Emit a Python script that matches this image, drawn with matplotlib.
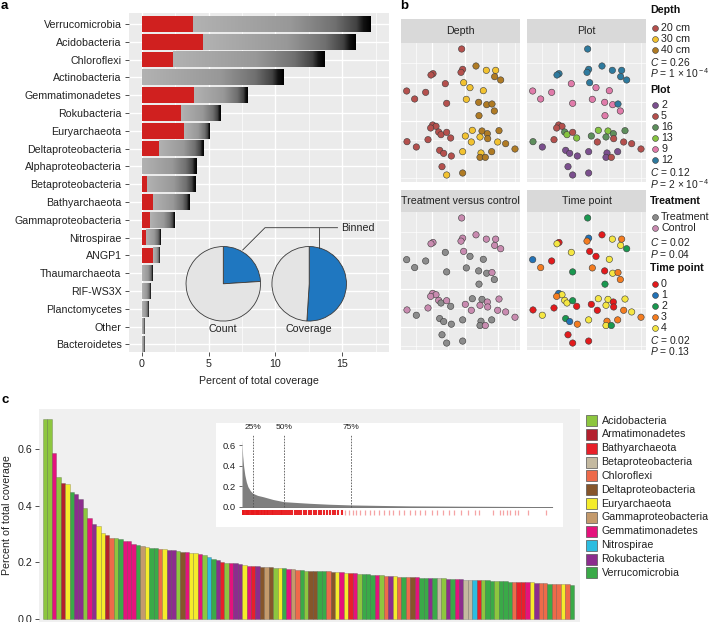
import matplotlib
matplotlib.use('Agg')
import matplotlib.pyplot as plt
import numpy as np
from matplotlib.colors import LinearSegmentedColormap

plt.rcParams['font.family'] = ['Liberation Sans', 'DejaVu Sans']
plt.rcParams['mathtext.fontset'] = 'custom'
plt.rcParams['mathtext.rm'] = 'Liberation Sans'
plt.rcParams['mathtext.it'] = 'Liberation Sans:italic'
plt.rcParams['mathtext.bf'] = 'Liberation Sans:bold'

# ---------------- DATA ----------------
# Panel a
phyla_a = ['Verrucomicrobia', 'Acidobacteria', 'Chloroflexi', 'Actinobacteria',
           'Gemmatimonadetes', 'Rokubacteria', 'Euryarchaeota', 'Deltaproteobacteria',
           'Alphaproteobacteria', 'Betaproteobacteria', 'Bathyarchaeota',
           'Gammaproteobacteria', 'Nitrospirae', 'ANGP1', 'Thaumarchaeota',
           'RIF-WS3X', 'Planctomycetes', 'Other', 'Bacteroidetes']
binned_cov = [3.8, 4.6, 2.35, 0, 3.9, 2.95, 3.15, 1.25, 0, 0.4, 0.8, 0.57,
              0.32, 0.8, 0, 0, 0, 0, 0]
total_cov = [17.1, 16.0, 13.7, 10.6, 7.9, 5.9, 5.05, 4.6, 4.1, 4.05, 3.5, 2.4,
             1.37, 1.25, 0.77, 0.67, 0.45, 0.17, 0.15]
a_xticks = [0, 5, 10, 15]
pie_labels = ['Count', 'Coverage']
pie_binned_frac = [0.24, 0.51]

# Panel b (ordination scores, same samples in all four facets)
nmds1 = [185, 228, 259, 287, 188, 183, 99, 93, 284, 302, 136, 191, 210, 250, 20, 77,
         44, 199, 236, 140, 260, 276, 283, 237, 98, 108, 92, 116, 123, 140, 152, 84,
         21, 49, 217, 246, 262, 297, 196, 240, 263, 214, 293, 317, 345, 119, 131, 154,
         188, 243, 240, 256, 275, 126, 140, 188]
nmds2 = [27, 78, 91, 91, 88, 97, 101, 105, 110, 120, 131, 128, 143, 152, 153, 157,
         177, 178, 187, 190, 194, 192, 213, 227, 255, 259, 264, 276, 284, 277, 294, 299,
         305, 321, 271, 273, 281, 272, 288, 291, 296, 306, 306, 311, 327, 331, 340, 348,
         335, 339, 352, 352, 335, 380, 405, 399]
depth = ['20', '40', '30', '30', '20', '20', '20', '20', '40', '40', '20', '30', '30', '30',
         '20', '20', '20', '30', '40', '20', '40', '40', '40', '40',
         '20', '20', '20', '20', '20', '20', '20', '20', '20', '20', '30', '40', '40', '40',
         '30', '30', '40', '30', '30', '40', '40', '20', '20', '20', '30', '30', '40', '40',
         '40', '20', '30', '40']
plot_id = ['12', '12', '12', '12', '12', '12', '12', '12', '12', '12', '9', '12', '9', '9',
           '9', '9', '9', '9', '9', '9', '9', '12', '9', '9',
           '5', '5', '5', '16', '13', '5', '13', '5', '16', '2', '13', '13', '16', '16',
           '16', '16', '5', '5', '5', '5', '5', '2', '2', '2', '2', '2', '2', '5', '2', '2',
           '2', '2']
treatment = ['C', 'C', 'C', 'C', 'C', 'C', 'C', 'C', 'C', 'C', 'T', 'C', 'T', 'T', 'T', 'T',
             'T', 'T', 'T', 'T', 'T', 'C', 'T', 'T',
             'C', 'C', 'C', 'C', 'T', 'C', 'T', 'C', 'C', 'T', 'T', 'T', 'C', 'C', 'C', 'C',
             'C', 'C', 'C', 'C', 'C', 'T', 'T', 'T', 'T', 'T', 'T', 'C', 'T', 'T', 'T', 'T']
time_point = ['2', '0', '4', '3', '1', '3', '0', '4', '4', '2', '4', '0', '0', '4', '1', '0',
              '3', '3', '0', '2', '4', '3', '3', '2',
              '1', '4', '3', '4', '4', '2', '0', '0', '0', '4', '4', '4', '0', '4', '0', '4',
              '0', '0', '3', '4', '3', '2', '1', '3', '4', '3', '4', '2', '3', '0', '0', '0']
depth_levels = ['20', '30', '40']
plot_levels = ['2', '5', '16', '13', '9', '12']
treat_levels = ['T', 'C']
time_levels = ['0', '1', '2', '3', '4']
stats_C = ['0.26', '0.12', '0.02', '0.02']
stats_P = [r'1 × 10$^{\rm -4}$', r'2 × 10$^{\rm -4}$', '0.04', '0.13']

# Panel c
c_codes = ['Aci', 'Aci', 'Gem', 'Aci', 'Arm', 'Eur', 'Ver', 'Rok', 'Rok', 'Aci',
           'Gem', 'Rok', 'Eur', 'Eur', 'Arm', 'Chl', 'Aci', 'Ver', 'Gem', 'Gem',
           'Gem', 'Ver', 'Gam', 'Eur', 'Ver', 'Ver', 'Chl', 'Eur', 'Rok', 'Rok',
           'Aci', 'Del', 'Gem', 'Eur', 'Eur', 'Gem', 'Aci', 'Nit', 'Ver', 'Rok',
           'Bat', 'Aci', 'Gem', 'Rok', 'Rok', 'Eur', 'Gem', 'Bat', 'Rok', 'Del',
           'Gam', 'Del', 'Aci', 'Eur', 'Ver', 'Gem', 'Gam', 'Chl', 'Ver', 'Aci',
           'Del', 'Del', 'Ver', 'Ver', 'Chl', 'Del', 'Eur', 'Gem', 'Eur', 'Bat',
           'Gem', 'Aci', 'Ver', 'Ver', 'Ver', 'Gem', 'Aci', 'Chl', 'Rok', 'Eur',
           'Chl', 'Ver', 'Chl', 'Del', 'Gem', 'Ver', 'Ver', 'Rok', 'Ver', 'Bet',
           'Aci', 'Rok', 'Ver', 'Gem', 'Rok', 'Bet', 'Bet', 'Nit', 'Bat', 'Aci',
           'Ver', 'Ver', 'Aci', 'Ver', 'Ver', 'Ver', 'Chl', 'Bat', 'Bat', 'Gem',
           'Eur', 'Rok', 'Chl', 'Chl', 'Ver', 'Chl', 'Chl', 'Eur', 'Chl', 'Ver']
c_values = [0.705, 0.705, 0.585, 0.50, 0.48, 0.476, 0.449, 0.44, 0.424, 0.39,
            0.358, 0.335, 0.327, 0.302, 0.295, 0.287, 0.285, 0.283, 0.275, 0.274,
            0.265, 0.262, 0.258, 0.253, 0.250, 0.249, 0.248, 0.246, 0.243, 0.242,
            0.240, 0.237, 0.236, 0.233, 0.232, 0.229, 0.225, 0.218, 0.212, 0.208,
            0.200, 0.198, 0.197, 0.196, 0.195, 0.190, 0.188, 0.187, 0.186, 0.183,
            0.183, 0.182, 0.181, 0.181, 0.180, 0.176, 0.175, 0.174, 0.172, 0.171,
            0.170, 0.170, 0.169, 0.169, 0.168, 0.167, 0.166, 0.165, 0.163, 0.162,
            0.161, 0.159, 0.158, 0.158, 0.157, 0.156, 0.155, 0.153, 0.152, 0.150,
            0.149, 0.148, 0.148, 0.147, 0.147, 0.146, 0.146, 0.145, 0.144, 0.144,
            0.143, 0.142, 0.141, 0.140, 0.140, 0.139, 0.139, 0.138, 0.137, 0.136,
            0.136, 0.135, 0.134, 0.134, 0.133, 0.132, 0.131, 0.130, 0.130, 0.129,
            0.129, 0.128, 0.127, 0.126, 0.125, 0.124, 0.123, 0.123, 0.122, 0.121]
c_yticks = [0.0, 0.2, 0.4, 0.6]
c_names = {'Aci': 'Acidobacteria', 'Arm': 'Armatimonadetes', 'Bat': 'Bathyarchaeota',
           'Bet': 'Betaproteobacteria', 'Chl': 'Chloroflexi', 'Del': 'Deltaproteobacteria',
           'Eur': 'Euryarchaeota', 'Gam': 'Gammaproteobacteria', 'Gem': 'Gemmatimonadetes',
           'Nit': 'Nitrospirae', 'Rok': 'Rokubacteria', 'Ver': 'Verrucomicrobia'}
# inset: ranked coverage of all genomes (% of ranked genomes) and binned positions
inset_rank = [0, 0.2, 0.5, 0.9, 1.4, 1.9, 2.7, 3.5, 5, 6.8, 10, 13.4, 18, 21.8, 28,
              35.1, 45, 54, 70, 85, 100]
inset_cov = [0.65, 0.5, 0.4, 0.31, 0.24, 0.195, 0.155, 0.13, 0.11, 0.097, 0.07, 0.049,
             0.04, 0.033, 0.024, 0.017, 0.012, 0.008, 0.005, 0.003, 0.001]
quartile_pos = [3.5, 13.4, 35.1]
quartile_lab = ['25%', '50%', '75%']
rug_dense = [0, 0.4, 0.8, 1.2, 1.6, 2.0, 2.4, 2.8, 3.2, 3.6, 4.0, 4.4, 4.8, 5.2, 5.6,
             6.0, 6.5, 7.0, 7.5, 8.0, 8.5, 9.0, 9.5, 10.0, 10.6, 11.2, 11.8, 12.4, 13.0,
             13.6, 14.2, 14.8, 15.5, 16.2, 16.9, 17.6, 18.3, 19.0, 19.8, 20.6, 21.4,
             22.2, 23.0, 23.8, 24.6, 25.5, 26.4, 27.3, 28.2, 29.1, 30.0, 31.0, 32.0]
rug_sparse = [33.2, 34.5, 35.6, 36.8, 38.0, 39.5, 41.0, 42.3, 44.0, 45.5, 47.2, 48.6,
              50.5, 52.0, 54.0, 55.5, 57.3, 59.0, 61.0, 62.8, 64.5, 66.5, 68.2, 70.5,
              72.6, 74.8, 76.2, 80.7, 83.0, 84.0, 85.2, 86.2, 87.8, 88.8, 92.0, 97.8]

# ---------------- STYLE ----------------
W, H = 711, 622
fig = plt.figure(figsize=(W / 100, H / 100), dpi=100)
FS = 7.7
TXT = '#222222'
RED = '#D0201F'
BLUE = '#1F77C0'
PANEL_BG = '#EBEBEB'

depth_cols = {'20': '#B5504D', '30': '#F2C230', '40': '#B07B24'}
plot_cols = {'2': '#7B4F8E', '5': '#B5504D', '16': '#5E8F5C', '13': '#86C440',
             '9': '#E07BAA', '12': '#2E7A9E'}
treat_cols = {'T': '#8C8C8C', 'C': '#C98BB0'}
treat_names = {'T': 'Treatment', 'C': 'Control'}
time_cols = {'0': '#E31A1C', '1': '#2272B6', '2': '#1A9850', '3': '#F47C20', '4': '#F5E642'}
c_cols = {'Aci': '#8DC63F', 'Arm': '#B3202E', 'Bat': '#E8202A', 'Bet': '#C4B9A0',
          'Chl': '#EE6A4A', 'Del': '#86552B', 'Eur': '#F5EC2B', 'Gam': '#C49A6C',
          'Gem': '#E5127D', 'Nit': '#2DBDE0', 'Rok': '#8C2D8E', 'Ver': '#3AAA48'}


def ax_px(l, t, r, b):
    return fig.add_axes([l / W, 1 - b / H, (r - l) / W, (b - t) / H])


# ---------------- PANEL A ----------------
axa = ax_px(129, 13, 389, 352)
axa.set_facecolor(PANEL_BG)
for v in a_xticks:
    axa.axvline(v, color='white', lw=1.0, zorder=0)
for v in [2.5, 7.5, 12.5, 17.5]:
    axa.axvline(v, color='white', lw=0.5, zorder=0)
for i in range(len(phyla_a)):
    axa.axhline(i, color='white', lw=1.0, zorder=0)

gray_cmap = LinearSegmentedColormap.from_list(
    'g', [(0, '#b2b2b2'), (0.55, '#989898'), (0.8, '#707070'), (0.92, '#424242'),
          (0.96, '#121212'), (1, '#000000')])
grad = np.linspace(0, 1, 256)[None, :]
bh = 0.88
for i, (b, t) in enumerate(zip(binned_cov, total_cov)):
    if t > b:
        axa.imshow(grad, extent=(b, t, i + bh / 2, i - bh / 2), cmap=gray_cmap,
                   aspect='auto', interpolation='bilinear', zorder=2)
    if b > 0:
        axa.barh(i, b, height=bh, color=RED, zorder=3)
axa.set_xlim(-0.97, 18.5)
axa.set_ylim(18.43, -0.62)
axa.set_yticks(range(len(phyla_a)))
axa.set_yticklabels(phyla_a, fontsize=FS, color=TXT)
axa.set_xticks(a_xticks)
axa.set_xticklabels([str(v) for v in a_xticks], fontsize=FS, color=TXT)
axa.tick_params(length=2.8, width=0.6, color='#333333', pad=2.5)
axa.set_xlabel('Percent of total coverage', fontsize=FS, color=TXT, labelpad=5)
for s in axa.spines.values():
    s.set_visible(False)

# pies
for (cx, lab, frac) in zip([223.3, 309.2], pie_labels, pie_binned_frac):
    pax = ax_px(cx - 38, 245.8, cx + 38, 321.8)
    pax.pie([frac, 1 - frac], startangle=90, counterclock=False,
            colors=[BLUE, '#E4E4E4'],
            wedgeprops=dict(edgecolor='#3a3a3a', linewidth=0.6))
    pax.set_aspect('equal')
    pax.set_xlim(-1.02, 1.02)
    pax.set_ylim(-1.02, 1.02)

# ---------------- PANEL B ----------------
xg = [47, 95, 145, 195, 245, 295, 345]
yg = [70, 128, 185, 243, 300, 358, 415]


def facet(l, strip_t, t, r, b, title, colors):
    ax = ax_px(l, t, r, b)
    ax.set_facecolor(PANEL_BG)
    for k, g in enumerate(xg):
        ax.axvline(g, color='white', lw=0.9 if k % 2 else 0.45, zorder=0)
    for k, g in enumerate(yg):
        ax.axhline(g, color='white', lw=0.9 if k % 2 else 0.45, zorder=0)
    ax.scatter(nmds1, nmds2, c=colors, s=21, edgecolors='#3a3a3a', linewidths=0.4,
               zorder=3)
    ax.set_xlim(3, 360)
    ax.set_ylim(426, 9)
    ax.set_xticks([])
    ax.set_yticks([])
    for s in ax.spines.values():
        s.set_visible(False)
    sax = ax_px(l, strip_t, r, t)
    sax.set_facecolor('#D9D9D9')
    sax.set_xticks([])
    sax.set_yticks([])
    for s in sax.spines.values():
        s.set_visible(False)
    sax.text(0.5, 0.5, title, ha='center', va='center', fontsize=FS, color=TXT,
             transform=sax.transAxes)


facet(401, 19, 43, 520, 182, 'Depth', [depth_cols[v] for v in depth])
facet(527, 19, 43, 646, 182, 'Plot', [plot_cols[v] for v in plot_id])
facet(401, 190, 212, 520, 350, 'Treatment versus control',
      [treat_cols[v] for v in treatment])
facet(527, 190, 212, 646, 350, 'Time point', [time_cols[v] for v in time_point])

# ---------------- PANEL C ----------------
axc = ax_px(39, 409, 580, 622)
axc.set_facecolor('#F0F0F0')
xs = np.arange(len(c_values))
axc.bar(xs, c_values, width=1.0, color=[c_cols[c] for c in c_codes],
        edgecolor=(0, 0, 0, 0.3), linewidth=0.4, zorder=2)
axc.set_xlim(-1.4, len(c_values) - 0.5 + 1.36)
axc.set_ylim(-0.0106, 0.741)
axc.set_xticks([])
axc.set_yticks(c_yticks)
axc.set_yticklabels(['%.1f' % v for v in c_yticks], fontsize=FS, color=TXT)
axc.tick_params(axis='y', length=2.8, width=0.6, color='#333333', pad=2)
axc.set_ylabel('Percent of total coverage', fontsize=FS, color=TXT, labelpad=4)
for s in axc.spines.values():
    s.set_visible(False)

# inset
box = ax_px(216, 423, 563, 527)
box.set_facecolor('white')
box.set_xticks([])
box.set_yticks([])
for s in box.spines.values():
    s.set_visible(False)
ins = ax_px(242, 435, 553, 516)
ins.patch.set_alpha(0)
ins.fill_between(inset_rank, inset_cov, 0, color='#7F7F7F', lw=0)
ins.plot([0, 100], [0, 0], color='#777777', lw=0.7)
ins.vlines(rug_dense, -0.076, -0.032, color='#E8191C', lw=1.5, alpha=0.95)
ins.vlines(rug_sparse, -0.076, -0.032, color='#E8191C', lw=0.9, alpha=0.4)
for p, lab in zip(quartile_pos, quartile_lab):
    ins.plot([p, p], [0, 0.6975], color='#555555', lw=0.6, ls=(0, (2, 1.5)))
    ins.text(p, 0.766, lab, ha='center', va='center', fontsize=6, color=TXT,
             clip_on=False)
ins.set_xlim(0, 100)
ins.set_ylim(-0.0905, 0.6975)
ins.set_xticks([])
ins.set_yticks(c_yticks)
ins.set_yticklabels(['%.1f' % v for v in c_yticks], fontsize=6.8, color=TXT)
ins.tick_params(axis='y', length=2, width=0.5, color='#333333', pad=2.5)
for s in ins.spines.values():
    s.set_visible(False)

# ---------------- OVERLAY (legends, labels) ----------------
ov = fig.add_axes([0, 0, 1, 1], zorder=20)
ov.set_xlim(0, W)
ov.set_ylim(H, 0)
ov.axis('off')
ov.patch.set_alpha(0)

# panel letters
for x, y, s in [(1, 6, 'a'), (400, 6, 'b'), (1, 400, 'c')]:
    ov.text(x, y, s, fontsize=9.5, fontweight='bold', va='center', ha='left', color='black')

# pie labels and leader lines
for cx, lab in zip([223.3, 309.2], pie_labels):
    ov.text(cx, 329.5, lab, ha='center', va='center', fontsize=FS, color=TXT)
ov.text(341.5, 227.7, 'Binned', ha='left', va='center', fontsize=FS, color=TXT)
ov.plot([242.7, 265, 337.5], [250, 227.7, 227.7], color='#333333', lw=0.6)
ov.plot([319.3, 319.3], [227.7, 247.5], color='#333333', lw=0.6)


# panel b legend
def legend_block(title, ty, levels, names, cols, ys, cval, pval, cy, py):
    ov.text(650, ty, title, fontsize=FS, fontweight='bold', va='center', ha='left',
            color='#111111')
    for lv, yy in zip(levels, ys):
        ov.plot([654.5], [yy], 'o', ms=4.2, mfc=cols[lv], mec='#3a3a3a', mew=0.4)
        ov.text(661, yy, names[lv], fontsize=FS, va='center', ha='left', color=TXT)
    ov.text(650.5, cy, r'$C$ = ' + cval, fontsize=7.4, va='center', ha='left', color=TXT)
    ov.text(650.5, py, r'$P$ = ' + pval, fontsize=7.4, va='center', ha='left', color=TXT)


legend_block('Depth', 10, depth_levels, {k: k + ' cm' for k in depth_levels}, depth_cols,
             [28, 39, 50], stats_C[0], stats_P[0], 61.5, 73.5)
legend_block('Plot', 90, plot_levels, {k: k for k in plot_levels}, plot_cols,
             [105, 116, 127, 138, 149, 160], stats_C[1], stats_P[1], 172.2, 184)
legend_block('Treatment', 201.3, treat_levels, treat_names, treat_cols,
             [217, 228], stats_C[2], stats_P[2], 242, 253.5)
legend_block('Time point', 268.3, time_levels, {k: k for k in time_levels}, time_cols,
             [283.7, 294.7, 305.7, 316.7, 327.7], stats_C[3], stats_P[3], 339.7, 351.2)

# panel c legend
c_legend_order = ['Aci', 'Arm', 'Bat', 'Bet', 'Chl', 'Del', 'Eur', 'Gam', 'Gem', 'Nit',
                  'Rok', 'Ver']
for k, code in enumerate(c_legend_order):
    yy = 420.5 + k * 13.85
    ov.add_patch(plt.Rectangle((586, yy - 5.5), 11, 11, facecolor=c_cols[code],
                               edgecolor='#555555', lw=0.5))
    ov.text(601.5, yy, c_names[code], fontsize=FS, va='center', ha='left', color=TXT)

fig.savefig('out.png', dpi=100)
